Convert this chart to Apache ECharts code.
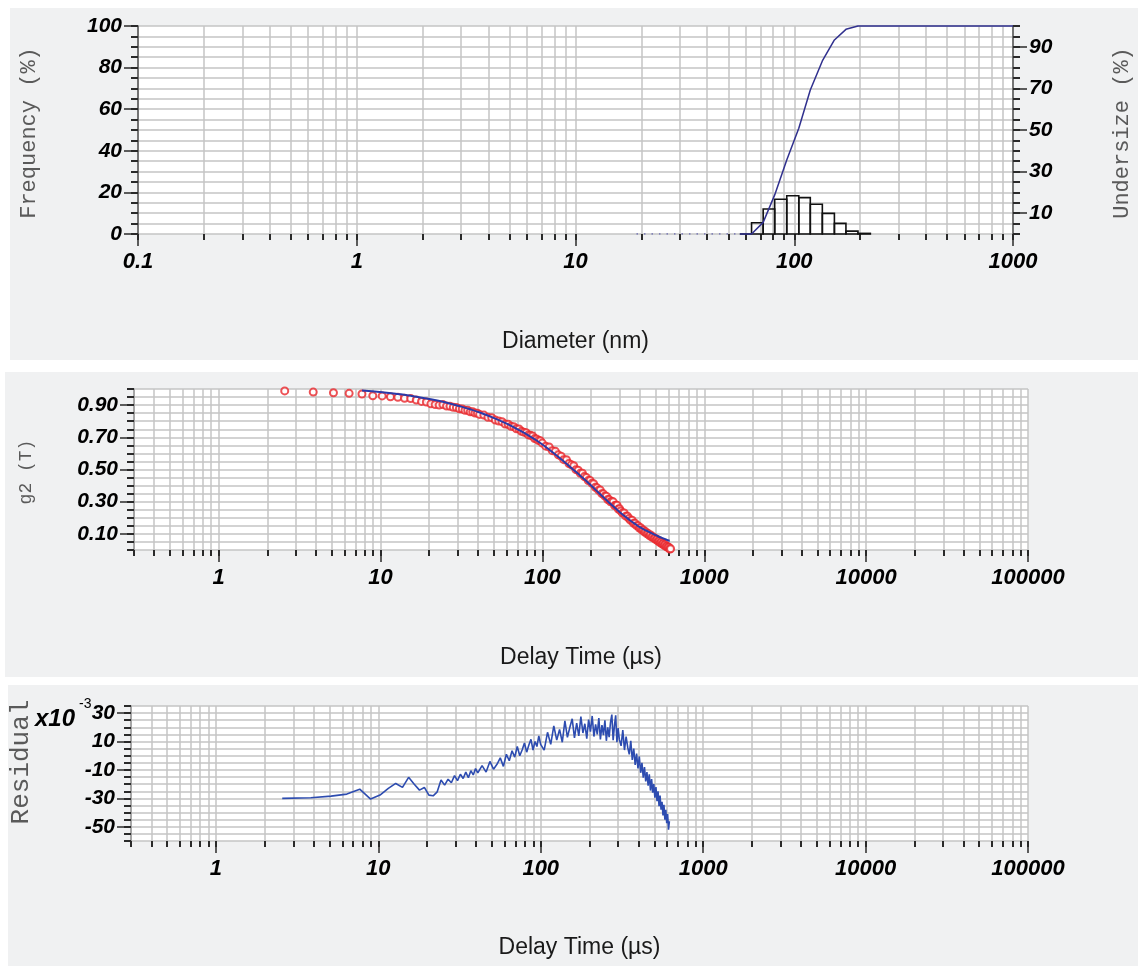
<!DOCTYPE html>
<html><head><meta charset="utf-8">
<script src="https://cdn.jsdelivr.net/npm/echarts@6/dist/echarts.min.js"></script>
<style>html,body{margin:0;padding:0;background:#fff;}#chart{width:1138px;height:966px;}</style>
</head><body><div id="chart"></div>
<script>
// ---------------- data ----------------
const diameterTickLabels = [0.1, 1, 10, 100, 1000];
const frequencyTickLabels = [0, 20, 40, 60, 80, 100];
const undersizeTickLabels = [10, 30, 50, 70, 90];
const delayTickLabels = [1, 10, 100, 1000, 10000, 100000];
const g2TickLabels = [0.1, 0.3, 0.5, 0.7, 0.9];
const residualTickLabels = [30, 10, -10, -30, -50];

// size distribution (histogram bins, nm) and frequency (%)
const binEdges = [56.4, 63.8, 72.1, 81.4, 92.4, 104.9, 118.4, 134.4, 152.6, 172.3, 195.6, 222.8];
const frequency = [0, 5.4, 12.0, 16.7, 18.4, 17.5, 14.3, 9.9, 5.1, 1.4, 0.3];
// cumulative undersize (%)
const undersizeDiameter = [56.4, 63.8, 72.1, 81.4, 92.4, 104.9, 118.4, 134.4, 152.6, 172.3, 195.6, 1000];
const undersize = [0, 0, 5.6, 18.8, 35.6, 50.8, 69.2, 83.2, 93.3, 98.4, 100, 100];
const zeroTailDiameter = [19, 56.4];
const zeroTail = [0, 0];

// correlation data (delay time in µs)
const delayTimes = [2.56, 3.84, 5.12, 6.40, 7.68, 8.96, 10.24, 11.52, 12.80, 14.08, 15.36, 16.64, 17.92, 19.20, 20.48, 21.76, 23.04, 24.32, 25.60, 26.88, 28.16, 29.44, 30.72, 32.00, 33.28, 34.56, 35.84, 37.12, 38.40, 39.68, 40.96,
  43.52, 46.08, 48.64, 51.20, 53.76, 56.32, 58.88, 61.44, 64.00, 66.56, 69.12, 71.68, 74.24, 76.80, 79.36, 81.92, 84.48, 87.04, 89.60, 92.16, 94.72, 97.28, 99.84,
  104.96, 110.08, 115.20, 120.32, 125.44, 130.56, 135.68, 140.80, 145.92, 151.04, 156.16, 161.28, 166.40, 171.52, 176.64, 181.76, 186.88, 192.00, 197.12, 202.24, 207.36, 212.48, 217.60, 222.72, 227.84, 232.96, 238.08, 243.20, 248.32, 253.44, 258.56, 263.68, 268.80, 273.92, 279.04, 284.16, 289.28, 294.40, 299.52, 304.64,
  312.32, 320.00, 327.68, 335.36, 343.04, 350.72, 358.40, 366.08, 373.76, 381.44, 389.12, 396.80, 404.48, 412.16, 419.84, 427.52, 435.20, 442.88, 450.56, 458.24, 465.92, 473.60, 481.28, 488.96, 496.64, 504.32, 512.00, 519.68, 527.36, 535.04, 542.72, 550.40, 558.08, 565.76, 573.44, 581.12, 588.80, 596.48, 604.16, 611.84, 619.52];
const g2Values = [0.988, 0.981, 0.977, 0.973, 0.969, 0.958, 0.957, 0.952, 0.948, 0.942, 0.941, 0.932, 0.923, 0.919, 0.908, 0.903, 0.900, 0.903, 0.894, 0.893, 0.886, 0.885, 0.877, 0.876, 0.868, 0.868, 0.858, 0.858, 0.851, 0.850, 0.842,
  0.838, 0.824, 0.822, 0.807, 0.801, 0.797, 0.782, 0.781, 0.768, 0.766, 0.753, 0.752, 0.737, 0.732, 0.729, 0.715, 0.712, 0.708, 0.692, 0.690, 0.680, 0.678, 0.664,
  0.645, 0.640, 0.617, 0.613, 0.591, 0.582, 0.561, 0.561, 0.537, 0.529, 0.523, 0.499, 0.495, 0.477, 0.477, 0.456, 0.450, 0.431, 0.432, 0.414, 0.412, 0.390, 0.386, 0.371, 0.372, 0.350, 0.349, 0.335, 0.334, 0.314, 0.313, 0.300, 0.301, 0.299, 0.276, 0.277, 0.278, 0.254, 0.256, 0.243,
  0.230, 0.230, 0.210, 0.210, 0.196, 0.184, 0.185, 0.166, 0.166, 0.151, 0.151, 0.136, 0.138, 0.124, 0.124, 0.112, 0.113, 0.101, 0.102, 0.090, 0.093, 0.080, 0.083, 0.072, 0.073, 0.063, 0.065, 0.054, 0.056, 0.045, 0.048, 0.037, 0.039, 0.029, 0.032, 0.021, 0.024, 0.015, 0.017, 0.006, 0.008];
// residual, in units of 1e-3
const residuals = [-30.0, -29.6, -28.4, -27.0, -23.5, -30.5, -27.7, -23.0, -19.5, -22.3, -15.2, -20.0, -24.2, -22.3, -27.7, -28.2, -25.4, -17.1, -20.7, -16.5, -19.0, -14.0, -17.5, -13.0, -16.0, -11.5, -15.5, -10.5, -13.5, -9.0, -12.0,
  -7.0, -11.5, -4.0, -9.5, -6.0, -1.5, -7.5, 1.0, -3.5, 3.5, -1.0, 6.5, 0.0, 4.0, 9.0, 2.5, 7.5, 11.5, 4.0, 10.0, 6.5, 14.0, 8.0,
  4.0, 16.5, 8.0, 21.0, 11.0, 18.5, 9.5, 24.5, 13.0, 20.0, 26.0, 12.5, 23.0, 14.0, 27.5, 16.0, 22.5, 12.0, 25.5, 17.0, 28.0, 13.5, 22.0, 15.0, 26.5, 11.5, 21.5, 14.5, 25.0, 10.5, 20.0, 13.0, 23.5, 29.0, 11.0, 21.0, 28.5, 9.5, 19.5, 11.5,
  7.0, 18.0, 4.0, 13.5, 6.0, 1.0, 10.5, -3.0, 5.0, -6.5, 1.5, -9.0, -0.5, -12.0, -5.0, -15.5, -8.0, -18.0, -11.5, -21.0, -13.0, -24.5, -16.5, -26.0, -20.0, -29.5, -22.0, -32.0, -25.0, -35.5, -28.0, -38.0, -32.5, -42.0, -34.5, -45.0, -38.0, -47.5, -41.0, -52.0, -46.0];
// fitted correlation curve
const fitDelays = [7.68, 10.24, 12.80, 15.36, 20.48, 25.60, 30.72, 35.84, 40.96, 51.20, 61.44, 71.68, 81.92, 92.16, 104.96, 120.32, 135.68, 151.04, 166.40, 181.76, 197.12, 212.48, 227.84, 243.20, 258.56, 273.92, 289.28, 304.64, 327.68, 350.72, 373.76, 396.80, 419.84, 442.88, 465.92, 488.96, 512.00, 535.04, 558.08, 581.12, 604.16, 611.84];
const fitValues = [0.991, 0.980, 0.969, 0.958, 0.936, 0.915, 0.894, 0.874, 0.854, 0.816, 0.780, 0.745, 0.712, 0.680, 0.640, 0.593, 0.550, 0.510, 0.473, 0.439, 0.407, 0.375, 0.346, 0.319, 0.294, 0.271, 0.250, 0.230, 0.205, 0.182, 0.162, 0.144, 0.130, 0.118, 0.107, 0.097, 0.088, 0.079, 0.072, 0.065, 0.059, 0.058];

// ---------------- styling ----------------
const GRID = '#c4c4c4';
const PANEL = '#f0f1f2';
const TICK = '#2a2a2a';
const numLabel = {fontFamily: '"Liberation Sans", Arial, sans-serif', fontWeight: 'bold', fontStyle: 'italic', fontSize: 21, color: '#000'};
const xNumLabel = Object.assign({}, numLabel, {fontSize: 22});
const titleStyle = {fontFamily: '"Liberation Sans", Arial, sans-serif', fontSize: 23, color: '#1a1a1a'};

function logMinorTicks(lo, hi) {
  const out = [];
  for (let e = Math.floor(Math.log10(lo)); e < Math.round(Math.log10(hi)); e++) {
    for (let m = 1; m < 10; m++) {
      const v = +(m * Math.pow(10, e)).toPrecision(6);
      if (v >= lo - 1e-9) out.push(v);
    }
  }
  out.push(hi);
  return out;
}
const fmtLog = v => String(Number((+v).toPrecision(6)));

function logAxisPair(grid, min, max, majors, name, nameGap) {
  return [
    {type: 'log', gridIndex: grid, min: min, max: max, position: 'bottom',
      axisLine: {show: false, onZero: false},
      axisTick: {show: true, customValues: logMinorTicks(min, max), length: 6, lineStyle: {color: TICK, width: 2}},
      axisLabel: {show: false},
      splitLine: {show: true, lineStyle: {color: GRID, width: 1.5}}},
    {type: 'log', gridIndex: grid, min: min, max: max, position: 'bottom',
      axisLine: {show: false, onZero: false},
      axisTick: {show: true, customValues: majors, length: 12, lineStyle: {color: TICK, width: 1.5}},
      axisLabel: Object.assign({customValues: majors, formatter: fmtLog, margin: 17}, xNumLabel),
      splitLine: {show: false},
      name: name, nameLocation: 'middle', nameGap: nameGap, nameTextStyle: titleStyle}
  ];
}
function valueAxisPair(grid, pos, min, max, interval, majors, fmt, axisColor) {
  return [
    {type: 'value', gridIndex: grid, position: pos, min: min, max: max, interval: interval,
      axisLine: {show: true, onZero: false, lineStyle: {color: axisColor, width: 1.5}},
      axisTick: {show: true, length: 7, lineStyle: {color: TICK, width: 2}},
      axisLabel: {show: false},
      splitLine: {show: pos === 'left', lineStyle: {color: GRID, width: 1.5}}},
    {type: 'value', gridIndex: grid, position: pos, min: min, max: max,
      axisLine: {show: false, onZero: false},
      axisTick: {show: true, customValues: majors, length: 14, lineStyle: {color: TICK, width: 1.5}},
      axisLabel: Object.assign({customValues: majors, formatter: fmt, margin: 16}, numLabel),
      splitLine: {show: false}}
  ];
}

const xAxes = [].concat(
  logAxisPair(0, 0.1, 1000, diameterTickLabels, 'Diameter (nm)', 96),
  logAxisPair(1, 0.3, 100000, delayTickLabels, 'Delay Time (µs)', 96),
  logAxisPair(2, 0.3, 100000, delayTickLabels, 'Delay Time (µs)', 95)
);
const yAxes = [].concat(
  valueAxisPair(0, 'left', 0, 100, 5, frequencyTickLabels, v => String(v), '#555'),
  valueAxisPair(0, 'right', 0, 100, 5, undersizeTickLabels, v => String(v), '#555'),
  valueAxisPair(1, 'left', 0, 1, 0.05, g2TickLabels, v => (+v).toFixed(2), '#999'),
  valueAxisPair(2, 'left', -60, 35, 5, residualTickLabels, v => String(v), '#999')
);

const monoTitle = (txt, x, y, size) => ({
  type: 'text', x: x, y: y, rotation: Math.PI / 2, silent: true, z: 5,
  style: {text: txt, font: size + 'px "Liberation Mono", "Courier New", monospace', fill: '#5a5a5a',
    textAlign: 'center', textVerticalAlign: 'middle'}
});

const option = {
  animation: false,
  backgroundColor: '#ffffff',
  grid: [
    {left: 138, top: 26, width: 875, height: 208, show: true, backgroundColor: '#ffffff', borderWidth: 0},
    {left: 134, top: 389, width: 894, height: 161, show: true, backgroundColor: '#ffffff', borderWidth: 0},
    {left: 131, top: 706, width: 897, height: 135, show: true, backgroundColor: '#ffffff', borderWidth: 0}
  ],
  xAxis: xAxes,
  yAxis: yAxes,
  graphic: [
    {type: 'rect', shape: {x: 10, y: 8, width: 1128, height: 352}, style: {fill: PANEL}, z: -10, silent: true},
    {type: 'rect', shape: {x: 5, y: 372, width: 1133, height: 305}, style: {fill: PANEL}, z: -10, silent: true},
    {type: 'rect', shape: {x: 8, y: 685, width: 1130, height: 281}, style: {fill: PANEL}, z: -10, silent: true},
    monoTitle('Frequency (%)', 29, 133, 22),
    monoTitle('Undersize (%)', 1122, 133, 22),
    monoTitle('g2 (T)', 26, 472, 18),
    monoTitle('Residual', 21, 762, 26),
    {type: 'text', x: 35, y: 719, silent: true, z: 5,
      style: {text: 'x10', font: 'italic bold 24px "Liberation Sans", Arial', fill: '#000', textAlign: 'left', textVerticalAlign: 'middle'}},
    {type: 'text', x: 79, y: 704, silent: true, z: 5,
      style: {text: '-3', font: '14px "Liberation Sans", Arial', fill: '#000', textAlign: 'left', textVerticalAlign: 'middle'}}
  ],
  series: [
    {name: 'Frequency', type: 'custom', xAxisIndex: 0, yAxisIndex: 0, z: 3,
      encode: {x: [0, 1], y: 2},
      data: frequency.map((f, i) => [binEdges[i], binEdges[i + 1], f]),
      renderItem: function (params, api) {
        const a = api.coord([api.value(0), api.value(2)]);
        const b = api.coord([api.value(1), 0]);
        return {type: 'rect', shape: {x: a[0], y: a[1], width: b[0] - a[0], height: b[1] - a[1]},
          style: {fill: 'none', stroke: '#111', lineWidth: 1.6}};
      }},
    {name: 'Undersize tail', type: 'line', xAxisIndex: 0, yAxisIndex: 2, symbol: 'none', z: 4,
      data: zeroTailDiameter.map((d, i) => [d, zeroTail[i]]),
      lineStyle: {color: '#6a6ab0', width: 1.5, type: [1.5, 6]}},
    {name: 'Undersize', type: 'line', xAxisIndex: 0, yAxisIndex: 2, symbol: 'none', z: 5, clip: false,
      data: undersizeDiameter.map((d, i) => [d, undersize[i]]),
      lineStyle: {color: '#30308e', width: 1.5}},
    {name: 'g2 data', type: 'scatter', xAxisIndex: 2, yAxisIndex: 4, symbol: 'emptyCircle', symbolSize: 7, z: 3,
      data: delayTimes.map((t, i) => [t, g2Values[i]]),
      itemStyle: {color: '#e8262a', borderColor: '#e8262a', borderWidth: 1.4}},
    {name: 'g2 fit', type: 'line', xAxisIndex: 2, yAxisIndex: 4, symbol: 'none', z: 5, smooth: true,
      data: fitDelays.map((t, i) => [t, fitValues[i]]),
      lineStyle: {color: '#2a3aa8', width: 2}},
    {name: 'Residual', type: 'line', xAxisIndex: 4, yAxisIndex: 6, symbol: 'none', z: 4,
      data: delayTimes.map((t, i) => [t, residuals[i]]),
      lineStyle: {color: '#2d4cb0', width: 1.6}}
  ]
};

const chart = echarts.init(document.getElementById('chart'), null, {renderer: 'canvas'});
chart.setOption(option);
</script>
</body></html>
